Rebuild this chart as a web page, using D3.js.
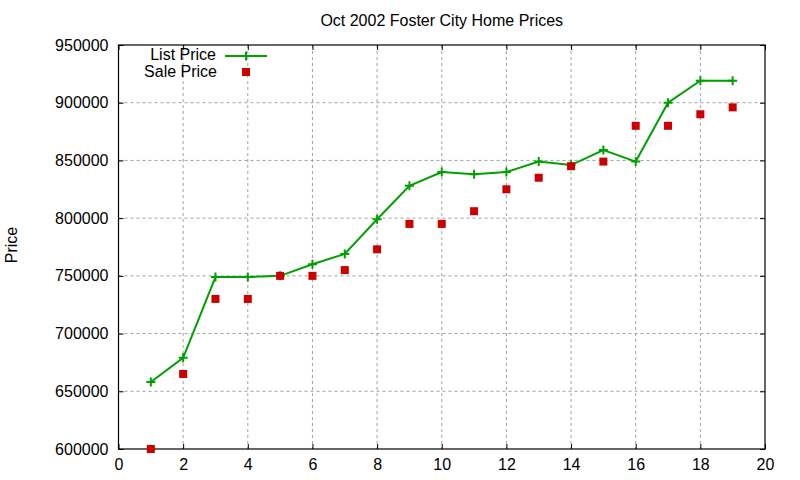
<!DOCTYPE html>
<html>
<head>
<meta charset="utf-8">
<script src="https://cdn.jsdelivr.net/npm/d3@7"></script>
<style>
  body { margin: 0; background: #fff; }
  svg { display: block; font-family: "Liberation Sans", Arial, sans-serif; }
</style>
</head>
<body>
<svg id="chart" width="800" height="480"></svg>
<script>
// Chart data
const idx = [1, 2, 3, 4, 5, 6, 7, 8, 9, 10, 11, 12, 13, 14, 15, 16, 17, 18, 19];
const listPrice = [658000, 679000, 749000, 749000, 750000, 760000, 769000, 799000, 828000, 840000,
                   838000, 840000, 849000, 846000, 859000, 849000, 900000, 919000, 919000];
const salePrice = [600000, 665000, 730000, 730000, 750000, 750000, 755000, 773000, 795000, 795000,
                   806000, 825000, 835000, 845000, 849000, 880000, 880000, 890000, 896000];
const xTicks = [0, 2, 4, 6, 8, 10, 12, 14, 16, 18, 20];
const yTicks = [600000, 650000, 700000, 750000, 800000, 850000, 900000, 950000];

const svg = d3.select('#chart');
const margin = { left: 118.5, right: 35, top: 45, bottom: 31 };
const w = 800 - margin.left - margin.right;
const h = 480 - margin.top - margin.bottom;

const x = d3.scaleLinear().domain([0, 20]).range([0, w]);
const y = d3.scaleLinear().domain([600000, 950000]).range([h, 0]);

const green = '#00a000';
const red = '#cc0000';
const tick = 5;

const g = svg.append('g').attr('transform', `translate(${margin.left},${margin.top})`);

// Grid
g.append('g').selectAll('line').data(xTicks.slice(1, -1)).enter().append('line')
    .attr('x1', d => x(d)).attr('x2', d => x(d)).attr('y1', 0).attr('y2', h)
    .attr('stroke', '#a0a0a0').attr('stroke-dasharray', '3,3');
g.append('g').selectAll('line').data(yTicks.slice(1, -1)).enter().append('line')
    .attr('x1', 0).attr('x2', w).attr('y1', d => y(d)).attr('y2', d => y(d))
    .attr('stroke', '#a0a0a0').attr('stroke-dasharray', '3,3');

// Axes (gnuplot style: inward ticks, mirrored)
const fmt = d3.format('d');
const axB = g.append('g').attr('transform', `translate(0,${h})`)
    .call(d3.axisBottom(x).tickValues(xTicks).tickSizeInner(-tick).tickSizeOuter(0).tickPadding(tick + 5).tickFormat(fmt));
const axT = g.append('g')
    .call(d3.axisTop(x).tickValues(xTicks).tickSizeInner(-tick).tickSizeOuter(0).tickFormat(''));
const axL = g.append('g')
    .call(d3.axisLeft(y).tickValues(yTicks).tickSizeInner(-tick).tickSizeOuter(0).tickPadding(tick + 5).tickFormat(fmt));
const axR = g.append('g').attr('transform', `translate(${w},0)`)
    .call(d3.axisRight(y).tickValues(yTicks).tickSizeInner(-tick).tickSizeOuter(0).tickFormat(''));

[axB, axT, axL, axR].forEach(a => {
    a.select('.domain').remove();
    a.selectAll('line').attr('stroke', '#000');
    a.selectAll('text').attr('font-size', 16).attr('fill', '#000').attr('font-family', '"Liberation Sans", Arial, sans-serif');
});

// Border
g.append('rect').attr('width', w).attr('height', h)
    .attr('fill', 'none').attr('stroke', '#000').attr('stroke-width', 1.2);

// List price line
const line = d3.line().x((d, i) => x(idx[i])).y(d => y(d));
g.append('path').datum(listPrice)
    .attr('fill', 'none').attr('stroke', green).attr('stroke-width', 2).attr('d', line);

function plusPath(s) {
    return `M${-s},0H${s}M0,${-s}V${s}`;
}
g.append('g').selectAll('path').data(listPrice).enter().append('path')
    .attr('transform', (d, i) => `translate(${x(idx[i])},${y(d)})`)
    .attr('d', plusPath(4.5)).attr('stroke', green).attr('stroke-width', 2).attr('fill', 'none');

// Sale price squares
const sq = 8;
g.append('g').selectAll('rect').data(salePrice).enter().append('rect')
    .attr('x', (d, i) => x(idx[i]) - sq / 2)
    .attr('y', d => y(d) - sq / 2)
    .attr('width', sq).attr('height', sq)
    .attr('fill', red);

// Title
svg.append('text').attr('x', margin.left + w / 2).attr('y', 26)
    .attr('text-anchor', 'middle').attr('font-size', 16).text('Oct 2002 Foster City Home Prices');

// Y label
svg.append('text').attr('transform', 'translate(17,245) rotate(-90)')
    .attr('text-anchor', 'middle').attr('font-size', 16).text('Price');

// Legend
const leg = svg.append('g');
leg.append('text').attr('x', 216).attr('y', 60).attr('text-anchor', 'end')
    .attr('font-size', 16).text('List Price');
leg.append('line').attr('x1', 225).attr('x2', 267).attr('y1', 56).attr('y2', 56)
    .attr('stroke', green).attr('stroke-width', 2);
leg.append('path').attr('transform', 'translate(246,56)').attr('d', plusPath(4.5))
    .attr('stroke', green).attr('stroke-width', 2);
leg.append('text').attr('x', 217).attr('y', 77).attr('text-anchor', 'end')
    .attr('font-size', 16).text('Sale Price');
leg.append('rect').attr('x', 242).attr('y', 68).attr('width', sq).attr('height', sq).attr('fill', red);
</script>
</body>
</html>
